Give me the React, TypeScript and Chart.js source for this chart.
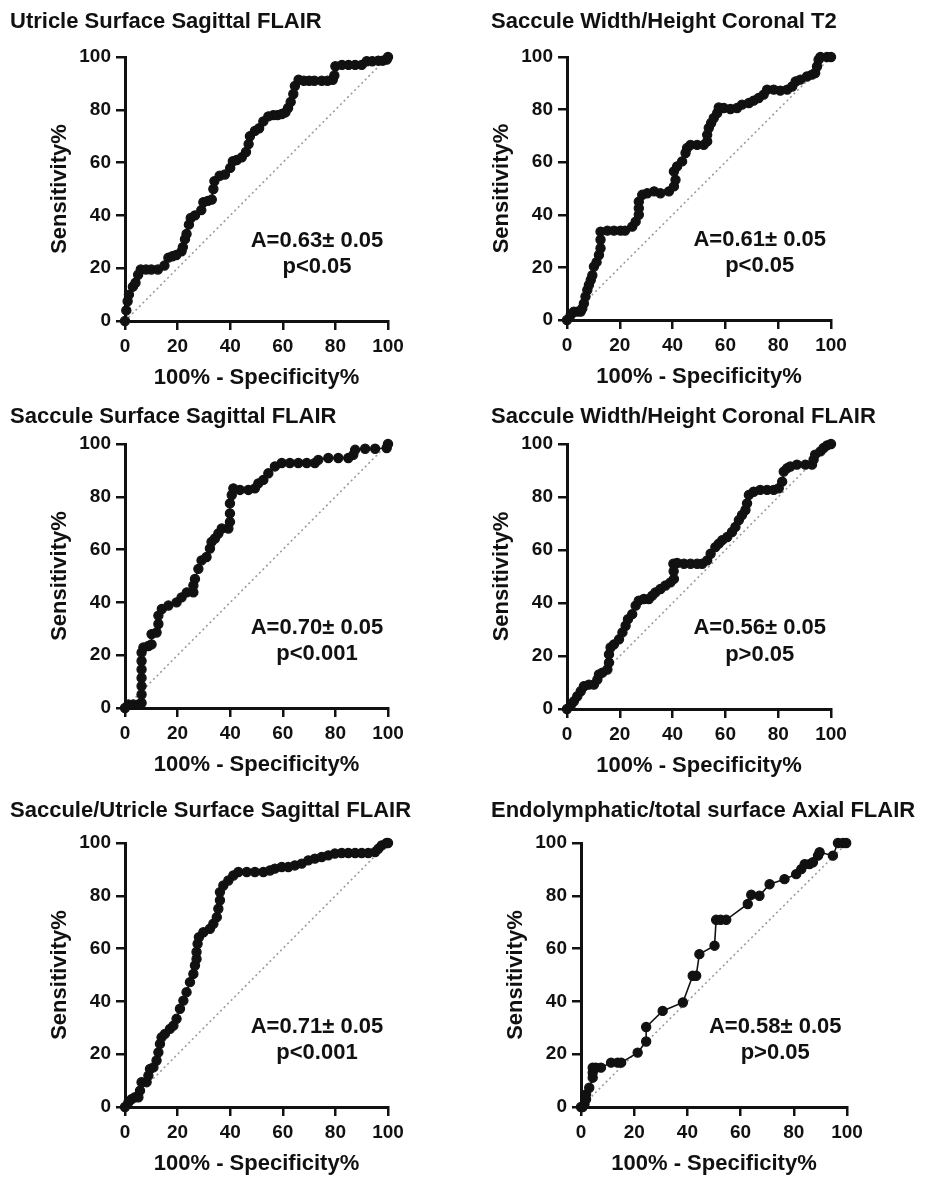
import React, { useEffect, useRef } from 'react';
import { Chart, registerables } from 'chart.js';

Chart.register(...registerables);

const FONT = "'Liberation Sans', Arial, Helvetica, sans-serif";
const INK = '#111111';

const tickValues = [0, 20, 40, 60, 80, 100];
const xAxisTitle = '100% - Specificity%';
const yAxisTitle = 'Sensitivity%';

const panelTitles = [
  'Utricle Surface Sagittal FLAIR',
  'Saccule Width/Height Coronal T2',
  'Saccule Surface Sagittal FLAIR',
  'Saccule Width/Height Coronal FLAIR',
  'Saccule/Utricle Surface Sagittal FLAIR',
  'Endolymphatic/total surface Axial FLAIR',
];
const aucLabels = [
  'A=0.63\u00b1 0.05',
  'A=0.61\u00b1 0.05',
  'A=0.70\u00b1 0.05',
  'A=0.56\u00b1 0.05',
  'A=0.71\u00b1 0.05',
  'A=0.58\u00b1 0.05',
];
const pLabels = ['p<0.05', 'p<0.05', 'p<0.001', 'p>0.05', 'p<0.001', 'p>0.05'];

// ROC points: [100% - specificity%, sensitivity%]
const utricleSurfaceSagFlair: [number, number][] = [
  [0, 0], [0.5, 4], [1, 7.5], [1.5, 10], [3, 13], [4, 14.5], [5, 17.5], [6, 19.5], [8, 19.5],
  [10, 19.5], [12.5, 19.5], [15, 21], [16.5, 24], [18, 24.5], [19.5, 25], [21.5, 26.4], [22, 28],
  [22.8, 31], [23.4, 33], [24.3, 36.5], [25, 39], [26.6, 40], [29, 42], [29.8, 45], [31.5, 45.5],
  [33, 46], [33.6, 50], [34, 53], [36, 55], [38, 55.5], [40, 58], [41, 60.5], [42.5, 61], [44.4, 62],
  [46, 64], [47, 67], [47.5, 70], [49.4, 72], [51, 73], [52.6, 75.6], [54.5, 77.5], [56.4, 78],
  [58, 78], [59.6, 78.4], [61, 79], [62, 80.7], [63, 83], [64, 86], [64.6, 89], [66, 91.4], [68, 91],
  [70, 91], [72, 91], [74.8, 91], [77, 91], [79, 91.4], [79.6, 93], [80, 96.5], [82.5, 97], [85, 97],
  [87.5, 97], [90, 97], [91.9, 98.4], [94, 98.4], [96.3, 98.6], [98, 98.6], [99.5, 99], [100, 100],
];

const sacculeWHCorT2: [number, number][] = [
  [0, 0], [1.4, 1.9], [2.6, 3.2], [3.9, 3.2], [5.2, 3.2], [5.8, 4.4], [6.4, 6.3], [7, 8.9], [7.7, 11.4],
  [8.3, 13.3], [9, 15.2], [9.6, 17], [10.2, 20.3], [11.2, 22], [12.1, 24.7], [12.7, 27.3], [12.7, 30.5],
  [12.7, 33.6], [15.3, 34], [17.8, 34], [20.3, 34], [22, 34], [24.7, 35.5], [26, 37.4], [27.2, 40],
  [27.2, 42.5], [27.2, 45], [28.5, 47.6], [30.4, 48.2], [33, 48.9], [35.4, 48.2], [38.6, 48.9],
  [40.5, 50.8], [41.1, 53.3], [40.5, 56.5], [41.7, 58.4], [43.6, 60.3], [44.9, 63.5], [45.5, 65.4],
  [46.8, 66.6], [49.3, 66.6], [51.8, 66.6], [53.1, 67.9], [53.1, 70.4], [53.7, 73], [54.6, 74.9],
  [55.6, 76.8], [56.9, 78.7], [57.5, 80.8], [59.4, 80.6], [61.9, 80.2], [64.4, 80.6], [66.3, 81.9],
  [68.9, 82.5], [70.7, 83.4], [72.6, 84.4], [74.5, 85.7], [75.8, 87.6], [78.3, 87.6], [80.8, 87.2],
  [83.4, 87.6], [85.3, 88.8], [86.6, 90.7], [88.4, 91.4], [90.9, 92.6], [92.8, 93.3], [94, 93.9],
  [94.7, 96.4], [95.3, 99], [96, 100], [98.5, 100], [100, 100],
];

const sacculeSurfaceSagFlair: [number, number][] = [
  [0, 0], [1.3, 1.3], [3.2, 1.3], [5.1, 1.3], [6.3, 1.9], [6.3, 5.1], [6.3, 8.3], [6.3, 11.4],
  [6.3, 14.6], [6.3, 17.8], [6.3, 21], [7, 22.9], [8.9, 23.5], [10.1, 24.1], [10.1, 28], [12, 28.6],
  [12.7, 31.8], [12.7, 35], [14, 37.5], [16.5, 38.8], [19.6, 40], [21.5, 41.9], [23.5, 43.8],
  [26, 43.8], [26, 46.4], [26.6, 48.9], [27.9, 52.7], [29.1, 55.9], [31, 57.2], [32.3, 60.4],
  [32.9, 62.9], [34.2, 64.2], [35.5, 66.1], [36.8, 68], [39.3, 68], [39.9, 70.5], [39.9, 73.7],
  [39.9, 77.5], [40.6, 80.7], [41.2, 83.2], [43.7, 82.6], [46.9, 82.6], [49.4, 83.2], [50.7, 85.1],
  [52.6, 86.4], [54.5, 88.9], [57, 91.5], [59.6, 92.8], [62.7, 92.8], [65.9, 92.8], [69.1, 92.8],
  [72.2, 92.8], [73.5, 94], [77.3, 94.7], [81.1, 94.7], [84.9, 94.7], [86.8, 95.9], [87.5, 97.8],
  [91.3, 98.2], [95.1, 98.2], [99.5, 98.5], [100, 100],
];

const sacculeWHCorFlair: [number, number][] = [
  [0, 0], [1.4, 1.3], [2.6, 2.9], [3.9, 4.8], [5.2, 6.7], [6.4, 8.6], [8.3, 9.2], [10.2, 9.2],
  [11.5, 11.1], [12.1, 13], [13.4, 13.7], [15.3, 14.9], [15.9, 17.5], [15.9, 20.6], [16.5, 23.2],
  [17.8, 24.4], [19.7, 26.3], [21, 28.9], [22.2, 31.4], [23.1, 33.9], [24.7, 35.8], [26, 39],
  [27.2, 40.9], [29.1, 41.5], [31, 41.5], [32.3, 42.8], [33.5, 44], [35.4, 45.3], [37.3, 46.6],
  [39.2, 47.8], [40.5, 49.1], [40.4, 52], [40.3, 54.8], [41.7, 55.1], [44.3, 54.8], [46.8, 54.8],
  [49.3, 54.8], [51.2, 54.8], [53.1, 56.1], [54.4, 58.6], [56.2, 61.1], [57.5, 62.4], [58.8, 63.7],
  [60.7, 64.9], [62.5, 66.8], [63.8, 68.7], [65.1, 71.3], [66.3, 73.2], [67.6, 75.1], [68.2, 77.6],
  [68.9, 80.8], [70.7, 82], [73.2, 82.7], [75.8, 82.7], [78.3, 82.7], [80.2, 83.3], [81.5, 85.8],
  [82.1, 89.6], [83.4, 90.9], [84.6, 91.5], [87.1, 92.2], [90.3, 92.2], [92.8, 92.2], [93.4, 94.1],
  [94, 96], [96, 97.2], [97.2, 98.5], [98.5, 99.5], [100, 100],
];

const sacculeUtricleSagFlair: [number, number][] = [
  [0, 0], [1.3, 1.8], [2.5, 3], [3.8, 3.7], [5.1, 3.7], [5.7, 6.2], [6.3, 9.4], [8.2, 9.4],
  [8.9, 11.9], [9.5, 14.4], [10.8, 15], [12, 17.6], [12.7, 20.7], [13.3, 23.9], [13.9, 26.4],
  [15.2, 27.7], [17.1, 29.6], [18.4, 30.8], [19.6, 33.4], [20.9, 37.2], [22.2, 40.3], [23.4, 43.5],
  [24.7, 47.3], [26, 50.4], [26.6, 53.6], [27.2, 56.1], [27.2, 58.7], [27.6, 61.8], [28.1, 64.3],
  [29.8, 66.2], [32.3, 67.5], [33.6, 69.4], [34.9, 71.9], [35.5, 75.1], [36.1, 78.3], [36.1, 81.4],
  [37.4, 83.9], [39.3, 85.8], [41.2, 87.7], [43.1, 89], [46.3, 89], [49.4, 89], [52.6, 89],
  [55.1, 89.6], [57, 90.3], [59.6, 90.9], [62.1, 90.9], [64.6, 91.5], [67.2, 92.2], [69.7, 93.4],
  [72.2, 94.1], [74.8, 94.7], [77.3, 95.3], [79.8, 96], [82.4, 96.2], [84.9, 96.2], [87.5, 96.2],
  [90, 96.2], [92.5, 96.2], [95.1, 96.6], [96.3, 97.8], [97.6, 99.1], [99.5, 100], [100, 100],
];

const endolymphTotalAxFlair: [number, number][] = [
  [0, 0], [0.6, 0], [1.3, 1], [1.9, 2.9], [1.9, 4.8], [3.1, 7.3], [4.4, 11.1], [4.4, 13], [4.4, 14.9],
  [5.6, 14.9], [7.5, 14.9], [11.3, 16.8], [13.8, 16.8], [15.1, 16.8], [21.3, 20.6], [24.5, 24.8],
  [24.5, 30.3], [30.7, 36.4], [38.3, 39.6], [42, 49.7], [43.3, 49.7], [44.5, 57.9], [50.2, 61.1],
  [50.8, 70.9], [52.5, 70.9], [54.6, 70.9], [62.7, 76.9], [64, 80.4], [67.1, 80], [70.9, 84.4],
  [76.5, 86.3], [80.9, 88.2], [82.8, 90.1], [84.1, 92], [85.9, 92], [87.2, 92.7], [89.1, 95.2],
  [89.7, 96.5], [94.7, 95.2], [96.6, 100], [98.5, 100], [99.7, 100],
];

const panelCurves = [
  utricleSurfaceSagFlair,
  sacculeWHCorT2,
  sacculeSurfaceSagFlair,
  sacculeWHCorFlair,
  sacculeUtricleSagFlair,
  endolymphTotalAxFlair,
];

// where each plot area sits on the page (px)
const panelBoxes = [
  { left: 125, top: 57, right: 388, bottom: 321, titleX: 10, titleY: 22, edge: 450 },
  { left: 567, top: 57, right: 831, bottom: 320, titleX: 491, titleY: 22, edge: 935 },
  { left: 125, top: 444, right: 388, bottom: 708, titleX: 10, titleY: 417, edge: 450 },
  { left: 567, top: 444, right: 831, bottom: 709, titleX: 491, titleY: 417, edge: 935 },
  { left: 125, top: 843, right: 388, bottom: 1107, titleX: 10, titleY: 811, edge: 450 },
  { left: 581, top: 843, right: 847, bottom: 1107, titleX: 491, titleY: 811, edge: 935 },
];

const Y_W = 115; // room for y ticks + title
const X_H = 75; // room for x ticks + title
const PAD_T = 50;

const RocPanel: React.FC<{ index: number }> = ({ index }) => {
  const canvasRef = useRef<HTMLCanvasElement | null>(null);
  const chartInstance = useRef<Chart | null>(null);

  const box = panelBoxes[index];
  const canvasLeft = box.left - Y_W;
  const canvasTop = box.top - PAD_T;
  const canvasW = box.edge - canvasLeft;
  const canvasH = box.bottom - box.top + PAD_T + X_H;
  const padRight = canvasW - Y_W - (box.right - box.left);

  useEffect(() => {
    const canvas = canvasRef.current;
    if (!canvas) return;
    const ctx = canvas.getContext('2d');
    if (!ctx) return;

    if (chartInstance.current) chartInstance.current.destroy();

    const textPlugin = {
      id: 'panelText',
      afterDatasetsDraw(chart: Chart) {
        const c = chart.ctx;
        const xs = chart.scales.x;
        const ys = chart.scales.y;
        c.save();
        c.fillStyle = INK;
        c.font = `bold 22px ${FONT}`;
        c.textBaseline = 'middle';
        c.textAlign = 'left';
        c.fillText(panelTitles[index], box.titleX - canvasLeft, box.titleY - canvasTop);
        c.textAlign = 'center';
        c.fillText(aucLabels[index], xs.getPixelForValue(73), ys.getPixelForValue(30.5));
        c.fillText(pLabels[index], xs.getPixelForValue(73), ys.getPixelForValue(20.5));
        c.restore();
      },
    };

    const axisCommon = {
      type: 'linear' as const,
      min: 0,
      max: 100,
      afterBuildTicks: (scale: any) => {
        scale.ticks = tickValues.map((value) => ({ value }));
      },
      border: { display: true, color: INK, width: 3 },
      grid: {
        display: true,
        drawOnChartArea: false,
        drawTicks: true,
        tickLength: 9,
        tickWidth: 2.5,
        tickColor: INK,
        color: INK,
        lineWidth: 2.5,
      },
      ticks: {
        color: INK,
        padding: 5,
        font: { family: FONT, size: 19, weight: 'bold' as const },
      },
    };

    chartInstance.current = new Chart(ctx, {
      type: 'scatter',
      data: {
        datasets: [
          {
            data: panelCurves[index].map(([x, y]) => ({ x, y })),
            showLine: true,
            borderColor: INK,
            backgroundColor: INK,
            borderWidth: 1.6,
            pointRadius: 4.6,
            pointBorderWidth: 1.2,
            pointBackgroundColor: INK,
            pointBorderColor: INK,
            clip: false,
          },
          {
            data: [
              { x: 0, y: 0 },
              { x: 100, y: 100 },
            ],
            showLine: true,
            borderColor: '#9c9c9c',
            borderWidth: 1.6,
            borderDash: [2, 3],
            pointRadius: 0,
          },
        ],
      },
      options: {
        animation: false,
        responsive: false,
        layout: { padding: { left: 0, top: PAD_T, right: padRight, bottom: 0 } },
        plugins: {
          legend: { display: false },
          tooltip: { enabled: false },
        },
        scales: {
          x: {
            ...axisCommon,
            afterFit: (scale: any) => {
              scale.height = X_H;
            },
            title: {
              display: true,
              text: xAxisTitle,
              color: INK,
              padding: { top: 0, bottom: 5 },
              font: { family: FONT, size: 22, weight: 'bold' },
            },
          },
          y: {
            ...axisCommon,
            afterFit: (scale: any) => {
              scale.width = Y_W;
            },
            title: {
              display: true,
              text: yAxisTitle,
              color: INK,
              padding: { top: 37, bottom: 0 },
              font: { family: FONT, size: 22, weight: 'bold' },
            },
          },
        },
      },
      plugins: [textPlugin],
    });

    return () => {
      if (chartInstance.current) {
        chartInstance.current.destroy();
        chartInstance.current = null;
      }
    };
  }, [index]);

  return (
    <canvas
      ref={canvasRef}
      width={canvasW}
      height={canvasH}
      style={{ position: 'absolute', left: canvasLeft, top: canvasTop, width: canvasW, height: canvasH }}
    />
  );
};

const App: React.FC = () => {
  return (
    <div
      style={{
        position: 'absolute',
        left: 0,
        top: 0,
        width: 935,
        height: 1197,
        background: '#fff',
        overflow: 'hidden',
      }}
    >
      {panelTitles.map((_, i) => (
        <RocPanel key={i} index={i} />
      ))}
    </div>
  );
};

export default App;
